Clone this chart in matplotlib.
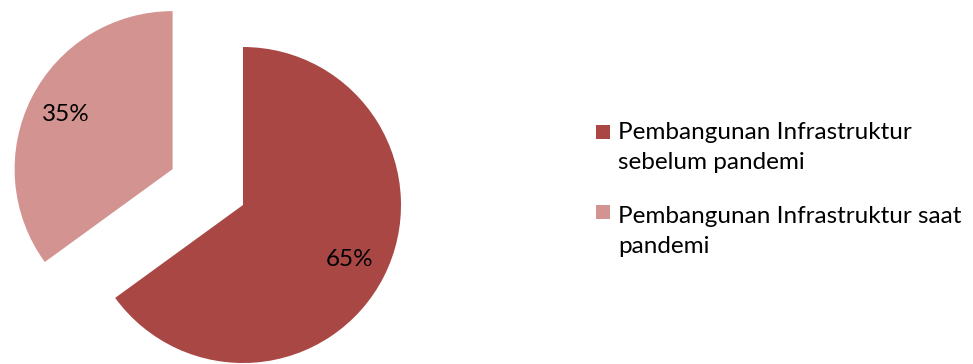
import matplotlib
matplotlib.use('Agg')
import matplotlib.pyplot as plt
from matplotlib.patches import Rectangle

plt.rcParams['font.family'] = ['Lato', 'DejaVu Sans']

# data
labels = ['Pembangunan Infrastruktur sebelum pandemi',
          'Pembangunan Infrastruktur saat pandemi']
legend_lines = [['Pembangunan Infrastruktur', 'sebelum pandemi'],
                ['Pembangunan Infrastruktur saat', 'pandemi']]
values = [65, 35]
colors = ['#A84744', '#D29391']

W, H = 973, 364
fig = plt.figure(figsize=(W / 100, H / 100), dpi=100)

# pie: centre at (243, 205) px from top-left, radius 158 px
cx, cy, r = 243, H - 205, 158
ax_w = 480
ax = fig.add_axes([0, 0, ax_w / W, 1])
wedges, texts, autotexts = ax.pie(
    values, colors=colors, startangle=90, counterclock=False,
    explode=[0, 0.5], autopct='%1.0f%%', pctdistance=0.76,
    textprops={'fontsize': 17.5, 'color': 'black'})
ax.set_xlim(-cx / r, (ax_w - cx) / r)
ax.set_ylim(-cy / r, (H - cy) / r)
ax.set_aspect('equal')
ax.axis('off')

# legend drawn by hand (square + wrapped text)
sq_top = [125, 205]
base1 = [139, 223]
for i, lines in enumerate(legend_lines):
    fig.patches.append(Rectangle((596 / W, 1 - (sq_top[i] + 14) / H), 14 / W, 14 / H,
                                 transform=fig.transFigure, facecolor=colors[i],
                                 edgecolor='none'))
    for j, line in enumerate(lines):
        fig.text(618 / W, 1 - (base1[i] + 30 * j) / H, line, fontsize=17.5,
                 va='baseline', ha='left', color='black')

fig.savefig('out.png', dpi=100)
